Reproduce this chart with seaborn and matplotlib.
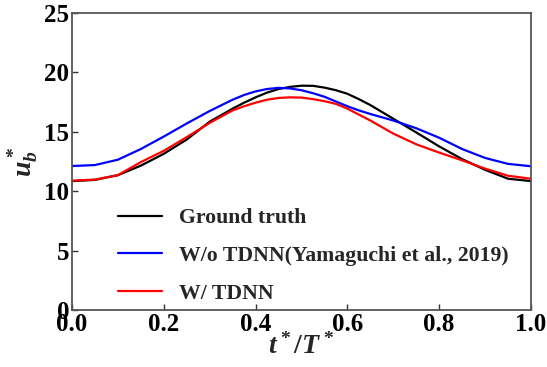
import numpy as np
import pandas as pd
import matplotlib
matplotlib.use("Agg")
import matplotlib.pyplot as plt
import seaborn as sns

# ── Data ────────────────────────────────────────────────────────────────────
t_norm = [0.00, 0.05, 0.10, 0.15, 0.20, 0.25, 0.30, 0.35, 0.375, 0.40, 0.425, 0.45, 0.475,
          0.50, 0.525, 0.55, 0.575, 0.60, 0.625, 0.65, 0.70, 0.75, 0.80, 0.85, 0.90, 0.95, 1.00]
ground_truth = [10.85, 10.95, 11.35, 12.15, 13.15, 14.35, 15.85, 16.95, 17.45, 17.90, 18.30, 18.60, 18.78,
                18.88, 18.87, 18.72, 18.50, 18.20, 17.75, 17.25, 16.10, 14.95, 13.77, 12.70, 11.80, 11.05, 10.85]
wo_tdnn      = [12.12, 12.20, 12.65, 13.55, 14.60, 15.70, 16.75, 17.70, 18.10, 18.40, 18.60, 18.70, 18.65,
                18.50, 18.25, 17.95, 17.55, 17.15, 16.80, 16.50, 15.95, 15.30, 14.50, 13.55, 12.80, 12.30, 12.10]
w_tdnn       = [10.88, 10.98, 11.35, 12.45, 13.40, 14.55, 15.75, 16.80, 17.15, 17.45, 17.70, 17.85, 17.90,
                17.88, 17.75, 17.58, 17.35, 16.95, 16.45, 15.95, 14.85, 13.95, 13.25, 12.60, 11.90, 11.30, 11.05]

labels = ["Ground truth", "W/o TDNN(Yamaguchi et al., 2019)", "W/ TDNN"]
colors = ["black", "blue", "red"]

df = pd.DataFrame({
    "t": t_norm * 3,
    "u": ground_truth + wo_tdnn + w_tdnn,
    "model": [labels[0]] * len(t_norm) + [labels[1]] * len(t_norm) + [labels[2]] * len(t_norm),
})

# ── Style ───────────────────────────────────────────────────────────────────
sns.set_style("ticks")
plt.rcParams["font.family"] = ["Liberation Serif", "DejaVu Serif"]
plt.rcParams["font.weight"] = "bold"
plt.rcParams["mathtext.fontset"] = "custom"
plt.rcParams["mathtext.it"] = "Liberation Serif:italic:bold"
plt.rcParams["mathtext.rm"] = "Liberation Serif:bold"

fig = plt.figure(figsize=(5.47, 3.67), dpi=100)
ax = fig.add_axes([0.1316, 0.1553, 0.8391, 0.8093])

sns.lineplot(data=df, x="t", y="u", hue="model", palette=dict(zip(labels, colors)),
             hue_order=labels, lw=1.6, ax=ax, legend=False)

for lbl, c in zip(labels, colors):
    ax.plot([], [], color=c, lw=1.6, label=lbl)

ax.set_xlim(0, 1)
ax.set_ylim(0, 25)
ax.set_xticks([0, 0.2, 0.4, 0.6, 0.8, 1.0])
ax.set_xticklabels(["0.0", "0.2", "0.4", "0.6", "0.8", "1.0"])
ax.set_yticks([0, 5, 10, 15, 20, 25])
ax.tick_params(direction="in", length=4, width=1, labelsize=18, pad=2, colors="#333333",
               labelcolor="black")
for lab in ax.get_xticklabels() + ax.get_yticklabels():
    lab.set_fontweight("bold")
for s in ax.spines.values():
    s.set_color("#555555")
    s.set_linewidth(1.3)

ax.set_xlabel(r"$t^*/T^*$", fontsize=20, labelpad=-2)
ax.set_ylabel(r"$u_b^*$", fontsize=20, labelpad=2)

ax.legend(loc="lower left", bbox_to_anchor=(0.058, -0.045), frameon=False,
          prop={"family": "Liberation Serif", "weight": "bold", "size": 15.7},
          handlelength=2.0, labelspacing=0.8, handletextpad=0.8)

plt.savefig("out.png", dpi=100)
